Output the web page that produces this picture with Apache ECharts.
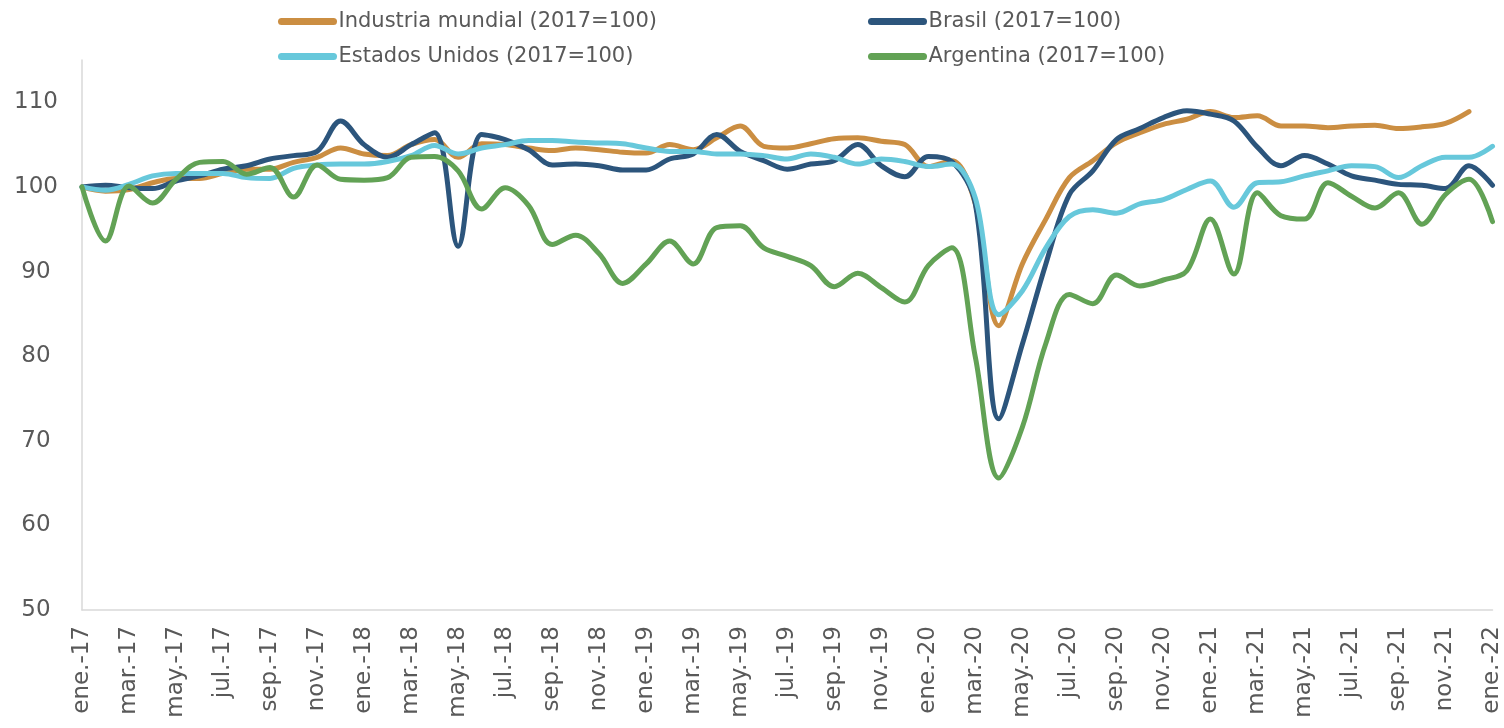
<!DOCTYPE html>
<html>
<head>
<meta charset="utf-8">
<script src="https://cdn.jsdelivr.net/npm/echarts@6/dist/echarts.min.js"></script>
<style>
  html, body { margin: 0; padding: 0; background: #fff; }
  #chart { width: 1504px; height: 728px; }
</style>
</head>
<body>
<div id="chart"></div>
<script>
// etiquetas de meses (ene.-17 ... ene.-22)
const meses = ['ene.', 'feb.', 'mar.', 'abr.', 'may.', 'jun.', 'jul.', 'ago.', 'sep.', 'oct.', 'nov.', 'dic.'];
const anios = ['17', '18', '19', '20', '21', '22'];
const categorias = [];
anios.forEach(function (a) {
  meses.forEach(function (m) { categorias.push(m + '-' + a); });
});
categorias.length = 61;

const industria = [
  100, 99.5, 99.7, 100.5, 101.0, 101.0, 101.6, 102.1, 102.1, 102.9, 103.5, 104.6,
  103.9, 103.7, 105.0, 105.6, 103.5, 105.1, 105.0, 104.6, 104.3, 104.6, 104.4, 104.1,
  104.0, 105.0, 104.4, 105.8, 107.2, 104.8, 104.6, 105.1, 105.7, 105.8, 105.4, 105.0,
  102.4, 103.1, 98.0, 83.6, 90.9, 96.2, 101.1, 103.1, 105.2, 106.4, 107.4, 108.0,
  108.9, 108.2, 108.4, 107.2, 107.2, 107.0, 107.2, 107.3, 106.9, 107.1, 107.5, 108.9, null
];
const brasil = [
  100, 100.2, 99.9, 99.8, 100.7, 101.3, 102.1, 102.5, 103.3, 103.7, 104.2, 107.8,
  105.0, 103.5, 105.0, 106.4, 93.0, 106.2, 105.6, 104.4, 102.6, 102.7, 102.5, 102.0,
  102.0, 103.3, 103.9, 106.2, 104.2, 103.1, 102.1, 102.7, 103.1, 105.0, 102.5, 101.2,
  103.6, 103.0, 98.0, 72.6, 81.4, 90.9, 99.1, 101.9, 105.6, 106.9, 108.2, 109.0,
  108.6, 107.8, 104.7, 102.5, 103.7, 102.7, 101.3, 100.8, 100.3, 100.2, 99.8, 102.5, 100.2
];
const eeuu = [
  100, 99.6, 100.3, 101.3, 101.6, 101.6, 101.6, 101.1, 101.0, 102.2, 102.6, 102.7,
  102.7, 103.0, 103.7, 104.9, 103.9, 104.6, 105.0, 105.5, 105.5, 105.3, 105.2, 105.1,
  104.6, 104.2, 104.2, 103.9, 103.9, 103.7, 103.3, 103.9, 103.5, 102.7, 103.3, 103.0,
  102.4, 102.7, 98.7, 84.9, 87.7, 92.8, 96.5, 97.3, 96.9, 98.0, 98.5, 99.7,
  100.7, 97.6, 100.5, 100.6, 101.3, 101.9, 102.5, 102.4, 101.1, 102.5, 103.5, 103.5, 104.8
];
const argentina = [
  100, 93.6, 100.1, 98.1, 100.9, 102.9, 103.0, 101.5, 102.3, 98.8, 102.6, 100.9,
  100.8, 101.1, 103.5, 103.6, 101.9, 97.4, 99.9, 97.8, 93.2, 94.3, 92.1, 88.6,
  90.9, 93.6, 90.9, 95.2, 95.4, 92.8, 91.8, 90.7, 88.2, 89.8, 88.1, 86.4,
  90.7, 92.8, 79.9, 65.6, 71.6, 81.5, 87.3, 86.2, 89.6, 88.3, 89.0, 90.1,
  96.2, 89.7, 99.3, 96.6, 96.2, 100.5, 98.9, 97.5, 99.3, 95.6, 99.1, 100.9, 95.9
];

const nombres = [
  'Industria mundial (2017=100)',
  'Brasil (2017=100)',
  'Estados Unidos (2017=100)',
  'Argentina (2017=100)'
];
const colores = ['#CB8E42', '#2C557C', '#67C8DB', '#62A255'];

const chart = echarts.init(document.getElementById('chart'), null, { renderer: 'canvas' });

function leyenda(nombre, left, top) {
  return {
    data: [nombre],
    left: left,
    top: top,
    padding: 0,
    itemWidth: 52,
    itemHeight: 8,
    itemGap: 0,
    lineStyle: { width: 7, cap: 'round' },
    textStyle: { fontFamily: 'DejaVu Sans', fontSize: 21, color: '#595959' }
  };
}

const series = [industria, brasil, eeuu, argentina].map(function (d, i) {
  return {
    name: nombres[i],
    type: 'line',
    data: d,
    smooth: 0.35,
    symbol: 'none',
    lineStyle: { width: 5, color: colores[i], cap: 'round' },
    itemStyle: { color: colores[i] }
  };
});

const option = {
  backgroundColor: '#ffffff',
  animation: false,
  legend: [
    leyenda(nombres[0], 278, 11),
    leyenda(nombres[1], 868, 11),
    leyenda(nombres[2], 278, 46),
    leyenda(nombres[3], 868, 46)
  ],
  grid: { left: 82, right: 10, top: 60, bottom: 118, containLabel: false },
  xAxis: {
    type: 'category',
    data: categorias,
    boundaryGap: false,
    axisLine: { lineStyle: { color: '#D9D9D9', width: 1.5 } },
    axisTick: { show: false },
    axisLabel: {
      interval: 1,
      rotate: 90,
      margin: 16,
      fontFamily: 'DejaVu Sans',
      fontSize: 23,
      color: '#595959'
    }
  },
  yAxis: {
    type: 'value',
    min: 50,
    max: 115,
    interval: 10,
    axisLine: { show: true, lineStyle: { color: '#D9D9D9', width: 1.5 } },
    axisTick: { show: false },
    splitLine: { show: false },
    axisLabel: {
      showMaxLabel: false,
      align: 'center',
      margin: 46,
      fontFamily: 'DejaVu Sans',
      fontSize: 23,
      color: '#595959'
    }
  },
  series: series
};

chart.setOption(option);
</script>
</body>
</html>
